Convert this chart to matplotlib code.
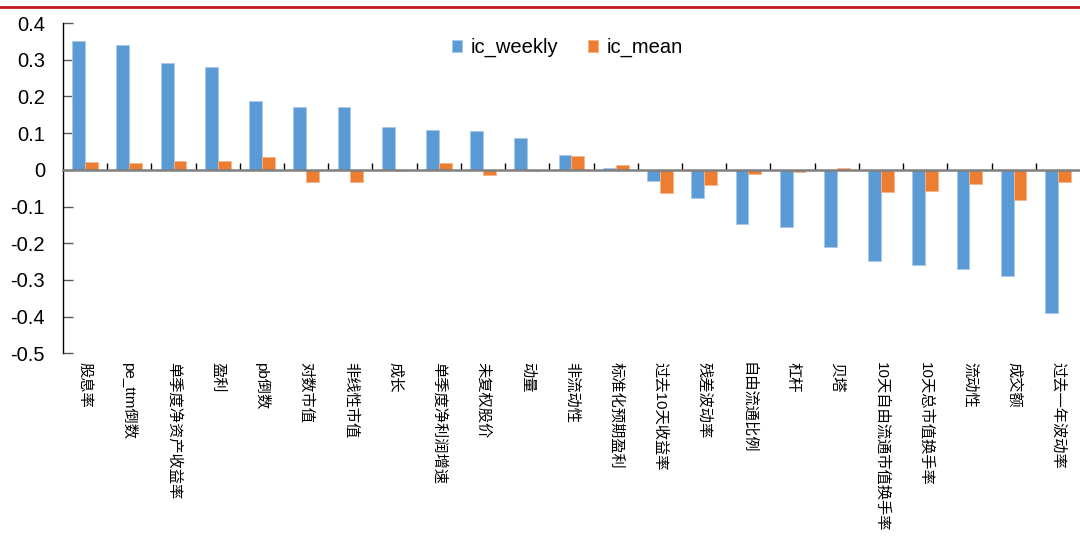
import numpy as np
import matplotlib
matplotlib.use('Agg')
import matplotlib.pyplot as plt
from matplotlib.lines import Line2D
from matplotlib.ticker import FuncFormatter

plt.rcParams['font.family'] = ['Liberation Sans', 'Noto Sans CJK SC', 'DejaVu Sans']
plt.rcParams['axes.unicode_minus'] = False

# factor names and IC values
factors = ['股息率', 'pe_ttm倒数', '单季度净资产收益率', '盈利', 'pb倒数', '对数市值',
           '非线性市值', '成长', '单季度净利润增速', '未复权股价', '动量', '非流动性',
           '标准化预期盈利', '过去10天收益率', '残差波动率', '自由流通比例', '杠杆', '贝塔',
           '10天自由流通市值换手率', '10天总市值换手率', '流动性', '成交额', '过去一年波动率']
ic_weekly = [0.350, 0.341, 0.292, 0.279, 0.189, 0.170, 0.170, 0.118, 0.108, 0.105, 0.088,
             0.040, 0.005, -0.031, -0.078, -0.147, -0.157, -0.211, -0.247, -0.259,
             -0.269, -0.290, -0.390]
ic_mean = [0.021, 0.019, 0.024, 0.023, 0.035, -0.032, -0.032, -0.003, 0.020, -0.015, -0.003,
           0.037, 0.013, -0.063, -0.042, -0.012, -0.005, 0.004, -0.060, -0.058,
           -0.039, -0.083, -0.033]

blue = '#5B9BD5'
orange = '#ED7D31'

fig = plt.figure(figsize=(10.8, 5.37), dpi=100)
ax = fig.add_axes([0.0583, 0.342, 0.9417, 0.615])

x = np.arange(len(factors))
w = 0.29
ax.bar(x - w / 2, ic_weekly, w, color=blue, edgecolor='#A9C8EA', linewidth=0.6,
       label='ic_weekly', zorder=2)
ax.bar(x + w / 2, ic_mean, w, color=orange, edgecolor='#F5B48C', linewidth=0.6,
       label='ic_mean', zorder=2)

ax.set_xlim(-0.5, len(factors) - 0.5)
ax.set_ylim(-0.5, 0.4)
ax.set_yticks(np.arange(-0.5, 0.41, 0.1))
ax.yaxis.set_major_formatter(FuncFormatter(lambda v, p: '0' if abs(v) < 1e-9 else '%.1f' % v))
ax.tick_params(axis='y', direction='in', length=7, width=1, color='#595959',
               labelsize=14.5, pad=13)

for s in ['top', 'right']:
    ax.spines[s].set_visible(False)
ax.spines['left'].set_color('black')
ax.spines['left'].set_linewidth(1)

# zero line carries the category boundary ticks
ax.spines['bottom'].set_position(('data', 0))
ax.spines['bottom'].set_color('#808080')
ax.spines['bottom'].set_linewidth(1.8)
ax.spines['bottom'].set_zorder(3)
ax.set_xticks(x[:-1] + 0.5)
ax.tick_params(axis='x', direction='in', length=5, width=1, color='black',
               labelbottom=False)

# category labels sit under the plot area
sec = ax.secondary_xaxis('bottom')
sec.set_xticks(x)
sec.set_xticklabels(factors, rotation=-90, fontsize=11, va='top', ha='center')
sec.tick_params(length=0, pad=6)
sec.spines['bottom'].set_visible(False)

ax.legend(loc='center', bbox_to_anchor=(0.496, 0.925), ncol=2, frameon=False,
          fontsize=14.5, handlelength=0.5, handleheight=0.5, handletextpad=0.4,
          columnspacing=1.5)

fig.add_artist(Line2D([0, 1], [0.987, 0.987], color='#C8161D', linewidth=2,
                      transform=fig.transFigure))

fig.savefig('out.png', dpi=100)
